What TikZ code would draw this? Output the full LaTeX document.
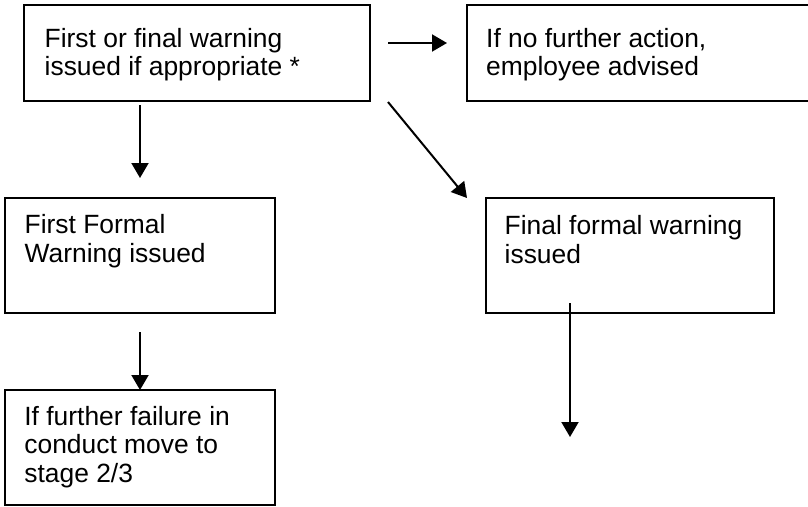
\documentclass[tikz,border=0pt]{standalone}
\usepackage{fontspec}
\setmainfont{Liberation Sans}
\usetikzlibrary{arrows.meta,calc}
\begin{document}
\begin{tikzpicture}[x=1pt,y=-1pt,
  box/.style={draw=black,line width=1.4pt,rectangle,inner sep=0pt,outer sep=0pt},
  txt/.style={anchor=north west,inner sep=0pt,align=left,
    font=\fontsize{26.4}{28.4}\selectfont},
  arr/.style={line width=2pt,-{Triangle[length=15pt,width=17pt]}}]
\useasboundingbox (0,0) rectangle (808,506);
\clip (0,0) rectangle (808,506);
% boxes
\node[box,minimum width=346pt,minimum height=96pt] (b1) at (197,53) {};
\node[box,minimum width=353pt,minimum height=96pt] (b2) at (643.5,53) {};
\node[box,minimum width=270pt,minimum height=115pt] (b3) at (140,255.5) {};
\node[box,minimum width=288pt,minimum height=115pt] (b4) at (630,255.5) {};
\node[box,minimum width=270pt,minimum height=115pt] (b5) at (140,447.5) {};
% texts (top of node = first baseline - 20pt)
\newcommand{\tp}{\rule{0pt}{20pt}}
\node[txt] (t1) at (44.5,27) {\tp First or final warning\\issued if appropriate *};
\node[txt] (t2) at (486,27) {\tp If no further action,\\employee advised};
\node[txt] (t3) at (24.5,213.5) {\tp First Formal\\Warning issued};
\node[txt] (t4) at (504.5,214.5) {\tp Final formal warning\\issued};
\node[txt] (t5) at (24.2,405) {\tp If further failure in\\conduct move to\\stage 2/3};
% connector end points
\coordinate (h1) at (388,43);
\coordinate (h2) at (447,43);
\coordinate (v1) at (140,105);
\coordinate (v2) at (140,178);
\coordinate (d1) at (388,102);
\coordinate (d2) at (467,198);
\coordinate (w1) at (140,332);
\coordinate (f1) at (570,303);
\coordinate (f2) at (570,437);
\draw[arr] (h1) -- (h2);
\draw[arr] (v1) -- (v2);
\draw[arr] (d1) -- (d2);
\draw[arr] (w1) -- (b5.north);
\draw[arr] (f1) -- (f2);
\end{tikzpicture}
\end{document}
